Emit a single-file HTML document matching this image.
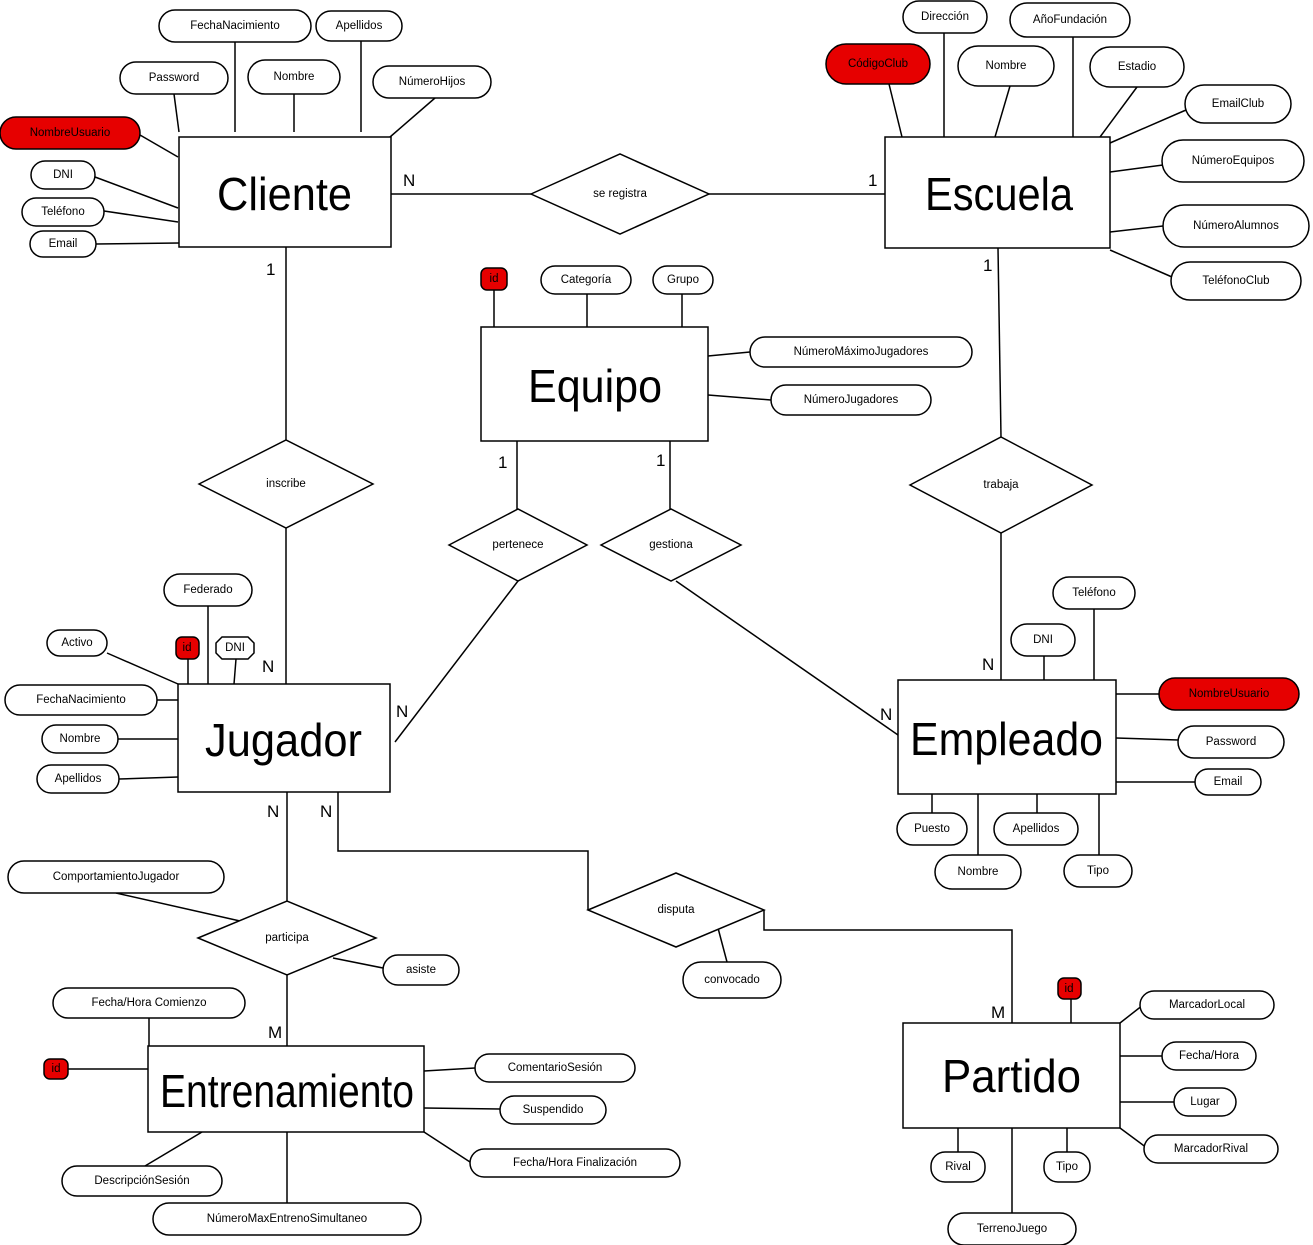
<!DOCTYPE html>
<html><head><meta charset="utf-8"><style>
html,body{margin:0;padding:0;background:#fff;}
svg{display:block;}
text{font-family:"Liberation Sans",sans-serif;}
.a{font-size:11.5px;text-anchor:middle;dominant-baseline:central;fill:#000;}
.e{font-size:46px;dominant-baseline:central;}
.c{font-size:17px;}
</style></head><body>
<svg width="1313" height="1245" viewBox="0 0 1313 1245" xmlns="http://www.w3.org/2000/svg">
<g stroke="#000" stroke-width="1.5" fill="none">
<line x1="391" y1="194" x2="531" y2="194"/><line x1="709" y1="194" x2="885" y2="194"/>
<line x1="286" y1="247" x2="286" y2="440"/><line x1="286" y1="528" x2="286" y2="684"/>
<line x1="998" y1="248" x2="1001" y2="437"/><line x1="1001" y1="533" x2="1001" y2="680"/>
<line x1="517" y1="441" x2="517" y2="509"/><line x1="518" y1="581" x2="395" y2="742"/>
<line x1="670" y1="441" x2="670" y2="509"/><line x1="676" y1="581" x2="898" y2="735"/>
<line x1="287" y1="792" x2="287" y2="901"/><line x1="287" y1="975" x2="287" y2="1046"/>
<polyline points="338,792 338,851 588,851 588,910"/>
<polyline points="764,910 764,930 1012,930 1012,1023"/>
<line x1="235" y1="42" x2="235" y2="132"/><line x1="361" y1="41" x2="361" y2="132"/>
<line x1="174" y1="94" x2="179" y2="132"/><line x1="294" y1="94" x2="294" y2="132"/>
<line x1="435" y1="98" x2="390" y2="137"/><line x1="140" y1="135" x2="178" y2="157"/>
<line x1="95" y1="177" x2="178" y2="208"/><line x1="104" y1="211" x2="178" y2="222"/>
<line x1="96" y1="244" x2="179" y2="243"/>
<line x1="944" y1="33" x2="944" y2="137"/><line x1="1073" y1="37" x2="1073" y2="137"/>
<line x1="889" y1="84" x2="902" y2="137"/><line x1="1010" y1="86" x2="995" y2="137"/>
<line x1="1137" y1="87" x2="1100" y2="137"/><line x1="1186" y1="110" x2="1110" y2="143"/>
<line x1="1163" y1="165" x2="1110" y2="172"/><line x1="1163" y1="226" x2="1110" y2="232"/>
<line x1="1172" y1="277" x2="1110" y2="250"/>
<line x1="494" y1="290" x2="494" y2="327"/><line x1="587" y1="294" x2="587" y2="327"/>
<line x1="682" y1="294" x2="682" y2="327"/><line x1="750" y1="352" x2="708" y2="356"/>
<line x1="771" y1="400" x2="708" y2="395"/>
<line x1="208" y1="606" x2="208" y2="684"/><line x1="107" y1="653" x2="178" y2="684"/>
<line x1="188" y1="659" x2="188" y2="684"/><line x1="236" y1="659" x2="234" y2="684"/>
<line x1="157" y1="700" x2="178" y2="700"/><line x1="118" y1="739" x2="178" y2="739"/>
<line x1="119" y1="779" x2="178" y2="777"/>
<line x1="1094" y1="609" x2="1094" y2="680"/><line x1="1044" y1="656" x2="1044" y2="680"/>
<line x1="1159" y1="694" x2="1116" y2="694"/><line x1="1178" y1="740" x2="1116" y2="738"/>
<line x1="1195" y1="782" x2="1116" y2="782"/><line x1="932" y1="794" x2="932" y2="813"/>
<line x1="1037" y1="794" x2="1037" y2="813"/><line x1="978" y1="794" x2="978" y2="855"/>
<line x1="1099" y1="794" x2="1099" y2="855"/>
<line x1="116" y1="893" x2="240" y2="921"/><line x1="383" y1="968" x2="333" y2="958"/>
<line x1="727" y1="962" x2="718" y2="928"/>
<line x1="149" y1="1018" x2="149" y2="1046"/><line x1="68" y1="1069" x2="148" y2="1069"/>
<line x1="475" y1="1068" x2="424" y2="1071"/><line x1="500" y1="1109" x2="424" y2="1108"/>
<line x1="470" y1="1162" x2="424" y2="1132"/><line x1="145" y1="1166" x2="202" y2="1132"/>
<line x1="287" y1="1203" x2="287" y2="1132"/>
<line x1="1071" y1="999" x2="1071" y2="1023"/><line x1="1143" y1="1005" x2="1120" y2="1023"/>
<line x1="1162" y1="1056" x2="1120" y2="1056"/><line x1="1174" y1="1102" x2="1120" y2="1102"/>
<line x1="1147" y1="1148" x2="1120" y2="1128"/><line x1="958" y1="1152" x2="958" y2="1128"/>
<line x1="1067" y1="1152" x2="1067" y2="1128"/><line x1="1012" y1="1213" x2="1012" y2="1128"/>
</g>

<g stroke="#000" stroke-width="1.5" fill="#fff">
<rect x="179" y="137" width="212" height="110"/>
<rect x="885" y="137" width="225" height="111"/>
<rect x="481" y="327" width="227" height="114"/>
<rect x="178" y="684" width="212" height="108"/>
<rect x="898" y="680" width="218" height="114"/>
<rect x="148" y="1046" width="276" height="86"/>
<rect x="903" y="1023" width="217" height="105"/>
<polygon points="531,194 620,154 709,194 620,234"/>
<polygon points="199,484 286,440 373,484 286,528"/>
<polygon points="449,545 518,509 587,545 518,581"/>
<polygon points="601,545 671,509 741,545 671,581"/>
<polygon points="910,485 1001,437 1092,485 1001,533"/>
<polygon points="198,938 287,901 376,938 287,975"/>
<polygon points="588,910 676,873 764,910 676,947"/>
</g>

<g stroke="#000" stroke-width="1.5" fill="#fff">
<rect x="159" y="10" width="152" height="32" rx="16"/>
<rect x="316" y="11" width="86" height="30" rx="15"/>
<rect x="120" y="62" width="108" height="32" rx="16"/>
<rect x="248" y="60" width="92" height="34" rx="17"/>
<rect x="373" y="66" width="118" height="32" rx="16"/>
<rect x="0" y="117" width="140" height="32" rx="16" fill="#e60000"/>
<rect x="31" y="161" width="64" height="28" rx="14"/>
<rect x="22" y="198" width="82" height="28" rx="14"/>
<rect x="30" y="231" width="66" height="26" rx="13"/>
<rect x="903" y="1" width="84" height="32" rx="16"/>
<rect x="1010" y="3" width="120" height="34" rx="17"/>
<rect x="826" y="44" width="104" height="40" rx="20" fill="#e60000"/>
<rect x="958" y="46" width="96" height="40" rx="20"/>
<rect x="1090" y="47" width="94" height="40" rx="20"/>
<rect x="1185" y="85" width="106" height="38" rx="19"/>
<rect x="1162" y="140" width="142" height="42" rx="21"/>
<rect x="1163" y="205" width="146" height="42" rx="21"/>
<rect x="1171" y="262" width="130" height="38" rx="19"/>
<rect x="481" y="268" width="26" height="22" rx="6" fill="#e60000"/>
<rect x="541" y="266" width="90" height="28" rx="14"/>
<rect x="653" y="266" width="60" height="28" rx="14"/>
<rect x="750" y="337" width="222" height="30" rx="15"/>
<rect x="771" y="385" width="160" height="30" rx="15"/>
<rect x="164" y="574" width="88" height="32" rx="16"/>
<rect x="47" y="630" width="60" height="26" rx="13"/>
<rect x="176" y="637" width="23" height="22" rx="6" fill="#e60000"/>
<polygon points="222,637 248,637 254,643 254,653 248,659 222,659 216,653 216,643"/>
<rect x="5" y="685" width="152" height="30" rx="15"/>
<rect x="42" y="725" width="76" height="28" rx="14"/>
<rect x="37" y="765" width="82" height="28" rx="14"/>
<rect x="1053" y="577" width="82" height="32" rx="16"/>
<rect x="1011" y="624" width="64" height="32" rx="16"/>
<rect x="1159" y="678" width="140" height="32" rx="16" fill="#e60000"/>
<rect x="1178" y="726" width="106" height="32" rx="16"/>
<rect x="1195" y="769" width="66" height="26" rx="13"/>
<rect x="897" y="813" width="70" height="32" rx="16"/>
<rect x="994" y="813" width="84" height="32" rx="16"/>
<rect x="935" y="855" width="86" height="34" rx="17"/>
<rect x="1064" y="855" width="68" height="32" rx="16"/>
<rect x="8" y="861" width="216" height="32" rx="16"/>
<rect x="383" y="955" width="76" height="30" rx="15"/>
<rect x="683" y="962" width="98" height="36" rx="18"/>
<rect x="53" y="988" width="192" height="30" rx="15"/>
<rect x="44" y="1059" width="24" height="20" rx="6" fill="#e60000"/>
<rect x="475" y="1054" width="160" height="28" rx="14"/>
<rect x="500" y="1096" width="106" height="28" rx="14"/>
<rect x="470" y="1149" width="210" height="28" rx="14"/>
<rect x="62" y="1166" width="160" height="30" rx="15"/>
<rect x="153" y="1203" width="268" height="32" rx="16"/>
<rect x="1058" y="978" width="23" height="21" rx="6" fill="#e60000"/>
<rect x="1140" y="991" width="134" height="28" rx="14"/>
<rect x="1162" y="1042" width="94" height="28" rx="14"/>
<rect x="1174" y="1088" width="62" height="28" rx="14"/>
<rect x="1144" y="1135" width="134" height="28" rx="14"/>
<rect x="931" y="1152" width="54" height="30" rx="14"/>
<rect x="1044" y="1152" width="46" height="30" rx="14"/>
<rect x="948" y="1213" width="128" height="32" rx="16"/>
</g>

<g>
<text class="e" x="217" y="194" textLength="135" lengthAdjust="spacingAndGlyphs">Cliente</text>
<text class="e" x="925" y="194" textLength="148" lengthAdjust="spacingAndGlyphs">Escuela</text>
<text class="e" x="528" y="386" textLength="134" lengthAdjust="spacingAndGlyphs">Equipo</text>
<text class="e" x="205" y="740" textLength="157" lengthAdjust="spacingAndGlyphs">Jugador</text>
<text class="e" x="910" y="739" textLength="193" lengthAdjust="spacingAndGlyphs">Empleado</text>
<text class="e" x="160" y="1091" textLength="254" lengthAdjust="spacingAndGlyphs">Entrenamiento</text>
<text class="e" x="942" y="1076" textLength="139" lengthAdjust="spacingAndGlyphs">Partido</text>

<text class="a" x="620" y="194">se registra</text>
<text class="a" x="286" y="484">inscribe</text>
<text class="a" x="518" y="545">pertenece</text>
<text class="a" x="671" y="545">gestiona</text>
<text class="a" x="1001" y="485">trabaja</text>
<text class="a" x="287" y="938">participa</text>
<text class="a" x="676" y="910">disputa</text>

<text class="c" x="403" y="186">N</text>
<text class="c" x="868" y="186">1</text>
<text class="c" x="266" y="275">1</text>
<text class="c" x="262" y="672">N</text>
<text class="c" x="983" y="271">1</text>
<text class="c" x="982" y="670">N</text>
<text class="c" x="498" y="468">1</text>
<text class="c" x="656" y="466">1</text>
<text class="c" x="396" y="717">N</text>
<text class="c" x="880" y="720">N</text>
<text class="c" x="267" y="817">N</text>
<text class="c" x="320" y="817">N</text>
<text class="c" x="268" y="1038">M</text>
<text class="c" x="991" y="1018">M</text>

<text class="a" x="235" y="26">FechaNacimiento</text>
<text class="a" x="359" y="26">Apellidos</text>
<text class="a" x="174" y="78">Password</text>
<text class="a" x="294" y="77">Nombre</text>
<text class="a" x="432" y="82">NúmeroHijos</text>
<text class="a" x="70" y="133">NombreUsuario</text>
<text class="a" x="63" y="175">DNI</text>
<text class="a" x="63" y="212">Teléfono</text>
<text class="a" x="63" y="244">Email</text>

<text class="a" x="945" y="17">Dirección</text>
<text class="a" x="1070" y="20">AñoFundación</text>
<text class="a" x="878" y="64">CódigoClub</text>
<text class="a" x="1006" y="66">Nombre</text>
<text class="a" x="1137" y="67">Estadio</text>
<text class="a" x="1238" y="104">EmailClub</text>
<text class="a" x="1233" y="161">NúmeroEquipos</text>
<text class="a" x="1236" y="226">NúmeroAlumnos</text>
<text class="a" x="1236" y="281">TeléfonoClub</text>

<text class="a" x="494" y="279">id</text>
<text class="a" x="586" y="280">Categoría</text>
<text class="a" x="683" y="280">Grupo</text>
<text class="a" x="861" y="352">NúmeroMáximoJugadores</text>
<text class="a" x="851" y="400">NúmeroJugadores</text>

<text class="a" x="208" y="590">Federado</text>
<text class="a" x="77" y="643">Activo</text>
<text class="a" x="187" y="648">id</text>
<text class="a" x="235" y="648">DNI</text>
<text class="a" x="81" y="700">FechaNacimiento</text>
<text class="a" x="80" y="739">Nombre</text>
<text class="a" x="78" y="779">Apellidos</text>

<text class="a" x="1094" y="593">Teléfono</text>
<text class="a" x="1043" y="640">DNI</text>
<text class="a" x="1229" y="694">NombreUsuario</text>
<text class="a" x="1231" y="742">Password</text>
<text class="a" x="1228" y="782">Email</text>
<text class="a" x="932" y="829">Puesto</text>
<text class="a" x="1036" y="829">Apellidos</text>
<text class="a" x="978" y="872">Nombre</text>
<text class="a" x="1098" y="871">Tipo</text>

<text class="a" x="116" y="877">ComportamientoJugador</text>
<text class="a" x="421" y="970">asiste</text>
<text class="a" x="732" y="980">convocado</text>

<text class="a" x="149" y="1003">Fecha/Hora Comienzo</text>
<text class="a" x="56" y="1069">id</text>
<text class="a" x="555" y="1068">ComentarioSesión</text>
<text class="a" x="553" y="1110">Suspendido</text>
<text class="a" x="575" y="1163">Fecha/Hora Finalización</text>
<text class="a" x="142" y="1181">DescripciónSesión</text>
<text class="a" x="287" y="1219">NúmeroMaxEntrenoSimultaneo</text>

<text class="a" x="1069" y="989">id</text>
<text class="a" x="1207" y="1005">MarcadorLocal</text>
<text class="a" x="1209" y="1056">Fecha/Hora</text>
<text class="a" x="1205" y="1102">Lugar</text>
<text class="a" x="1211" y="1149">MarcadorRival</text>
<text class="a" x="958" y="1167">Rival</text>
<text class="a" x="1067" y="1167">Tipo</text>
<text class="a" x="1012" y="1229">TerrenoJuego</text>
</g>
</svg>
</body></html>
